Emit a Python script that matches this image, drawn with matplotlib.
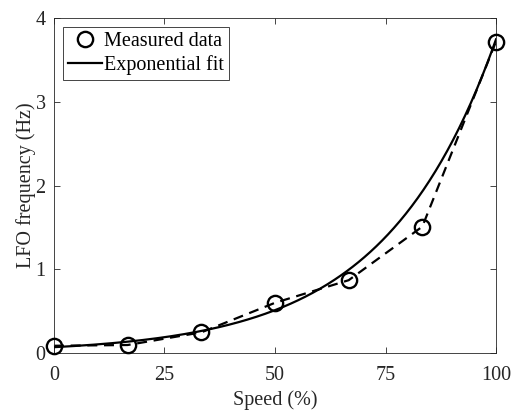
import numpy as np
import matplotlib
matplotlib.use("Agg")
import matplotlib.pyplot as plt

speed = [0, 16.67, 33.33, 50, 66.67, 83.33, 100]
lfo_freq = [0.087, 0.096, 0.247, 0.60, 0.87, 1.51, 3.72]
fit_a = 0.070
fit_b = 0.0398
xticks = [0, 25, 50, 75, 100]
yticks = [0, 1, 2, 3, 4]

plt.rcParams['font.family'] = ['Liberation Serif', 'DejaVu Serif']

fig = plt.figure(figsize=(5.14, 4.11), dpi=100)
ax = fig.add_axes([0.105, 0.141, 0.86, 0.815])

xf = np.linspace(0, 100, 300)
yf = fit_a * np.exp(fit_b * xf)

ax.plot(speed, lfo_freq, color='black', lw=1.6, dashes=(4.5, 3), clip_on=False)
ax.plot(speed, lfo_freq, 'o', ms=11, mfc='none', mec='black', mew=1.7,
        clip_on=False, label='Measured data', zorder=4)
ax.plot(xf, yf, color='black', lw=1.6, label='Exponential fit', zorder=3)

ax.set_xlim(0, 100)
ax.set_ylim(0, 4)
ax.set_xticks(xticks)
ax.set_yticks(yticks)
ax.tick_params(direction='in', length=4, width=0.6, top=True, right=True,
               labelsize=14.5, colors='#262626', labelcolor='#262626')
ax.tick_params(axis='x', pad=9)
ax.tick_params(axis='y', pad=6)
for s in ax.spines.values():
    s.set_linewidth(0.6)
    s.set_color('#262626')

ax.set_xlabel('Speed (%)', fontsize=14.5, color='#262626', labelpad=4)
ax.set_ylabel('LFO frequency (Hz)', fontsize=14.5, color='#262626', labelpad=0)

leg = ax.legend(loc='upper left', fontsize=14.5, handlelength=1.7, handletextpad=0.1,
                borderpad=0.25, labelspacing=0.2, borderaxespad=0.45,
                fancybox=False, framealpha=1, edgecolor='#262626')
leg.get_frame().set_linewidth(0.6)

fig.savefig('out.png', dpi=100)
